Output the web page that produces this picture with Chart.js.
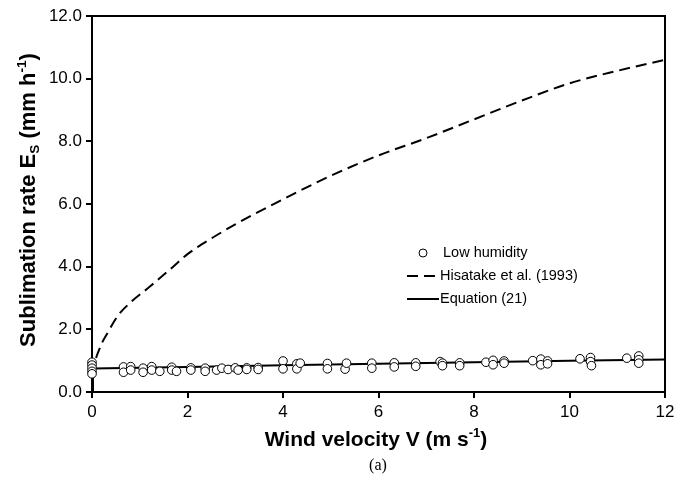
<!DOCTYPE html>
<html>
<head>
<meta charset="utf-8">
<script src="https://cdn.jsdelivr.net/npm/chart.js@4.4.1/dist/chart.umd.min.js"></script>
<style>
  html, body { margin: 0; padding: 0; background: #fff; }
  #wrap { width: 694px; height: 484px; }
</style>
</head>
<body>
<div id="wrap"><canvas id="theChart" width="694" height="484"></canvas></div>
<script>
// measured points, low humidity
const lowX = [0, 0, 0, 0, 0, 0.66, 0.66, 0.81, 0.81, 1.07, 1.07, 1.25, 1.25, 1.42, 1.67, 1.67,
  1.77, 2.07, 2.07, 2.37, 2.37, 2.61, 2.72, 2.85, 3.0, 3.06, 3.24, 3.24, 3.48, 3.48, 4.0, 4.0,
  4.29, 4.29, 4.36, 4.93, 4.93, 5.3, 5.33, 5.86, 5.86, 6.33, 6.33, 6.78, 6.78, 7.29, 7.34, 7.34,
  7.7, 7.7, 8.25, 8.4, 8.4, 8.63, 8.63, 9.23, 9.4, 9.4, 9.54, 9.54, 10.22, 10.44, 10.44, 10.46,
  11.2, 11.45, 11.45, 11.45];
const lowY = [0.95, 0.86, 0.76, 0.66, 0.58, 0.8, 0.63, 0.81, 0.7, 0.76, 0.63, 0.81, 0.7, 0.66, 0.79, 0.7,
  0.66, 0.77, 0.7, 0.76, 0.66, 0.7, 0.76, 0.72, 0.77, 0.7, 0.77, 0.72, 0.78, 0.72, 0.99, 0.74,
  0.9, 0.74, 0.92, 0.91, 0.74, 0.73, 0.92, 0.92, 0.76, 0.93, 0.8, 0.93, 0.82, 0.97, 0.92, 0.84,
  0.93, 0.84, 0.95, 1.01, 0.87, 0.99, 0.92, 1.0, 1.05, 0.87, 0.99, 0.9, 1.06, 1.1, 0.97, 0.84,
  1.08, 1.15, 1.03, 0.92];

// Hisatake et al. (1993)
const hisX = [0, 0.05, 0.15, 0.35, 0.55, 0.8, 1.2, 1.7, 2, 2.5, 3, 4, 5, 6, 7, 8, 9, 10, 11, 12];
const hisY = [0, 0.8, 1.35, 1.95, 2.45, 2.85, 3.35, 4.0, 4.4, 4.9, 5.35, 6.15, 6.9, 7.55, 8.1, 8.7, 9.3, 9.85, 10.25, 10.6];

// Equation (21)
const eqX = [0, 0.02, 2, 4, 6, 8, 10, 12];
const eqY = [0, 0.75, 0.8, 0.85, 0.9, 0.95, 1.0, 1.04];

const xTicks = [0, 2, 4, 6, 8, 10, 12];
const yTicks = [0, 2, 4, 6, 8, 10, 12];

const legendItems = ["Low humidity", "Hisatake et al. (1993)", "Equation (21)"];

function toPoints(xs, ys) {
  return xs.map((x, i) => ({ x: x, y: ys[i] }));
}

// draw text pieces with sub/superscripts, centred on (cx, cy)
function drawRich(ctx, parts, cx, cy, size) {
  ctx.save();
  ctx.textBaseline = "alphabetic";
  ctx.textAlign = "left";
  let w = 0;
  parts.forEach((p) => {
    const s = p.k ? size * 0.62 : size;
    ctx.font = "bold " + s + "px 'Liberation Sans', Arial, sans-serif";
    w += ctx.measureText(p.t).width;
  });
  let x = cx - w / 2;
  const base = cy + size * 0.36;
  parts.forEach((p) => {
    const s = p.k ? size * 0.62 : size;
    ctx.font = "bold " + s + "px 'Liberation Sans', Arial, sans-serif";
    let y = base;
    if (p.k === "sup") y = base - size * 0.42;
    if (p.k === "sub") y = base + size * 0.18;
    ctx.fillText(p.t, x, y);
    x += ctx.measureText(p.t).width;
  });
  ctx.restore();
}

const extrasPlugin = {
  id: "extras",
  afterDraw(chart) {
    const ctx = chart.ctx;
    const a = chart.chartArea;
    ctx.save();
    ctx.strokeStyle = "#000";
    ctx.lineWidth = 2;
    ctx.beginPath();
    ctx.moveTo(a.left, a.top);
    ctx.lineTo(a.right, a.top);
    ctx.lineTo(a.right, a.bottom);
    ctx.stroke();

    // legend
    ctx.fillStyle = "#000";
    ctx.font = "14.5px 'Liberation Sans', Arial, sans-serif";
    ctx.textBaseline = "middle";
    ctx.beginPath();
    ctx.arc(423, 253, 4, 0, Math.PI * 2);
    ctx.fillStyle = "#fff";
    ctx.fill();
    ctx.lineWidth = 1;
    ctx.stroke();
    ctx.fillStyle = "#000";
    ctx.fillText(legendItems[0], 443, 253);
    ctx.lineWidth = 2;
    ctx.setLineDash([11, 6]);
    ctx.beginPath();
    ctx.moveTo(407, 276);
    ctx.lineTo(439, 276);
    ctx.stroke();
    ctx.setLineDash([]);
    ctx.fillText(legendItems[1], 440, 276);
    ctx.beginPath();
    ctx.moveTo(407, 299);
    ctx.lineTo(439, 299);
    ctx.stroke();
    ctx.fillText(legendItems[2], 440, 299);

    // axis titles
    drawRich(ctx, [{ t: "Wind velocity V (m s" }, { t: "-1", k: "sup" }, { t: ")" }], 376, 438, 21);
    ctx.save();
    ctx.translate(27, 200);
    ctx.rotate(-Math.PI / 2);
    drawRich(ctx, [{ t: "Sublimation rate E" }, { t: "S", k: "sub" }, { t: " (mm h" }, { t: "-1", k: "sup" }, { t: ")" }], 0, 0, 22);
    ctx.restore();

    ctx.font = "16px 'Liberation Serif', 'Times New Roman', serif";
    ctx.textAlign = "center";
    ctx.textBaseline = "middle";
    ctx.fillText("(a)", 378, 466);
    ctx.restore();
  },
};

const config = {
  type: "scatter",
  data: {
    datasets: [
      {
        label: legendItems[0],
        data: toPoints(lowX, lowY),
        showLine: false,
        pointStyle: "circle",
        pointRadius: 4.3,
        pointBackgroundColor: "#fff",
        pointBorderColor: "#000",
        pointBorderWidth: 1,
        clip: false,
        order: 0,
      },
      {
        label: legendItems[1],
        data: toPoints(hisX, hisY),
        showLine: true,
        borderColor: "#000",
        borderWidth: 2,
        borderDash: [11, 6],
        pointRadius: 0,
        cubicInterpolationMode: "monotone",
        order: 1,
      },
      {
        label: legendItems[2],
        data: toPoints(eqX, eqY),
        showLine: true,
        borderColor: "#000",
        borderWidth: 2,
        pointRadius: 0,
        order: 2,
      },
    ],
  },
  options: {
    responsive: false,
    animation: false,
    layout: { padding: { top: 16, right: 29, left: 0, bottom: 0 } },
    plugins: {
      legend: { display: false },
      tooltip: { enabled: false },
    },
    scales: {
      x: {
        type: "linear",
        min: 0,
        max: 12,
        afterFit: (s) => { s.height = 92; },
        afterBuildTicks: (s) => { s.ticks = xTicks.map((v) => ({ value: v })); },
        ticks: {
          color: "#000",
          padding: 4,
          font: { family: "'Liberation Sans', Arial, sans-serif", size: 17 },
          callback: (v) => String(v),
        },
        grid: { drawOnChartArea: false, color: "#000", lineWidth: 2, tickLength: 6 },
        border: { display: true, color: "#000", width: 2 },
      },
      y: {
        type: "linear",
        min: 0,
        max: 12,
        afterFit: (s) => { s.width = 92; },
        afterBuildTicks: (s) => { s.ticks = yTicks.map((v) => ({ value: v })); },
        ticks: {
          color: "#000",
          padding: 4,
          font: { family: "'Liberation Sans', Arial, sans-serif", size: 17 },
          callback: (v) => Number(v).toFixed(1),
        },
        grid: { drawOnChartArea: false, color: "#000", lineWidth: 2, tickLength: 6 },
        border: { display: true, color: "#000", width: 2 },
      },
    },
  },
  plugins: [extrasPlugin],
};

const theChart = new Chart(document.getElementById("theChart"), config);
</script>
</body>
</html>
